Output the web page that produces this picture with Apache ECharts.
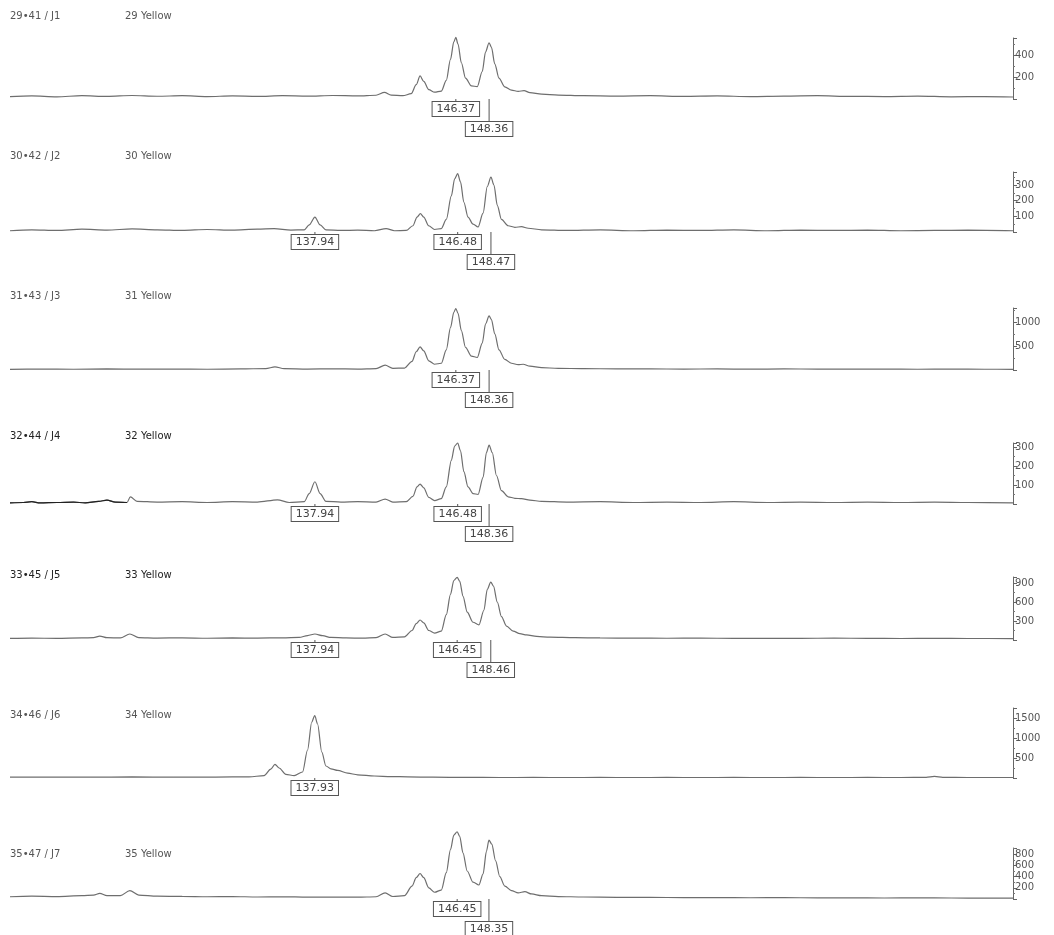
<!DOCTYPE html>
<html>
<head>
<meta charset="utf-8">
<style>
  html, body { margin: 0; padding: 0; background: #fff; }
  #chart { width: 1054px; height: 935px; }
</style>
<script src="https://cdn.jsdelivr.net/npm/echarts@6/dist/echarts.min.js"></script>
</head>
<body>
<div id="chart"></div>
<script>
// sample / dye names of each lane
const sampleNames = ["29•41 / J1", "30•42 / J2", "31•43 / J3", "32•44 / J4", "33•45 / J5", "34•46 / J6", "35•47 / J7"];
const dyeNames = ["29 Yellow", "30 Yellow", "31 Yellow", "32 Yellow", "33 Yellow", "34 Yellow", "35 Yellow"];

// size (bp) range shown
const sizeMin = 119.7;
const sizeMax = 179.7;

// traces: [size bp, intensity]
const trace1 = [[119.7,22],[121.0,28],[122.5,20],[124.0,30],[125.5,24],[127.0,32],[128.5,25],[130.0,30],[131.5,22],[133.0,28],[134.5,24],[136.0,30],[137.5,26],[139.0,32],[140.5,28],[141.6,34],[142.1,60],[142.5,36],[143.2,30],[143.7,48],[144.0,130],[144.23,210],[144.45,160],[144.75,85],[145.1,62],[145.5,72],[145.8,170],[146.05,360],[146.25,520],[146.37,560],[146.5,500],[146.7,330],[146.95,190],[147.3,120],[147.65,112],[147.95,250],[148.15,430],[148.36,512],[148.5,470],[148.7,320],[148.95,190],[149.3,110],[149.7,80],[150.1,70],[150.45,76],[150.8,58],[151.5,44],[152.5,36],[154.0,30],[156.0,26],[158.0,30],[160.0,24],[162.0,28],[164.0,22],[166.0,26],[168.0,30],[170.0,24],[172.0,22],[174.0,26],[176.0,20],[178.0,22],[179.7,18]];
const trace2 = [[119.7,8],[121.0,14],[122.5,10],[124.0,18],[125.5,12],[127.0,20],[128.5,14],[130.0,10],[131.5,16],[133.0,12],[134.5,18],[135.5,22],[136.5,12],[137.3,14],[137.6,45],[137.94,95],[138.25,45],[138.6,14],[139.5,10],[140.5,12],[141.5,8],[142.2,22],[142.7,8],[143.4,10],[143.8,40],[144.05,95],[144.25,117],[144.45,95],[144.75,40],[145.1,16],[145.5,22],[145.8,80],[146.1,230],[146.3,340],[146.48,372],[146.65,320],[146.85,190],[147.1,95],[147.4,50],[147.7,32],[148.0,120],[148.25,290],[148.47,350],[148.65,300],[148.85,170],[149.1,80],[149.5,40],[149.9,30],[150.3,34],[150.7,24],[151.5,14],[153.0,10],[155.0,14],[157.0,8],[159.0,12],[161.0,10],[163.0,14],[165.0,8],[167.0,12],[169.0,10],[171.0,12],[173.0,8],[175.0,10],[177.0,12],[179.7,8]];
const trace3 = [[119.7,15],[121.5,20],[123.5,16],[125.5,22],[127.5,18],[129.5,20],[131.5,16],[133.5,22],[135.0,30],[135.55,65],[136.1,28],[137.5,20],[139.0,24],[140.5,20],[141.6,30],[142.14,100],[142.6,35],[143.3,40],[143.75,180],[144.0,380],[144.23,480],[144.45,400],[144.75,190],[145.1,120],[145.5,140],[145.8,420],[146.05,880],[146.25,1200],[146.37,1280],[146.5,1180],[146.7,820],[146.95,470],[147.3,290],[147.65,260],[147.95,560],[148.15,960],[148.36,1125],[148.5,1050],[148.7,750],[148.95,420],[149.3,220],[149.7,140],[150.1,110],[150.4,120],[150.8,80],[151.5,50],[152.5,34],[154.0,28],[156.0,24],[158.0,22],[160.0,20],[162.0,22],[164.0,18],[166.0,22],[168.0,20],[170.0,18],[172.0,20],[174.0,16],[176.0,18],[178.0,16],[179.7,14]];
const trace4 = [[119.7,6],[120.5,8],[121.0,12],[121.5,6],[122.5,8],[123.5,10],[124.2,6],[125.0,14],[125.5,20],[126.0,10],[126.7,8],[126.9,38],[127.3,14],[128.5,10],[130.0,12],[131.5,8],[133.0,12],[134.5,10],[135.7,22],[136.4,8],[137.3,12],[137.6,55],[137.94,117],[138.25,55],[138.6,14],[139.5,10],[140.5,12],[141.6,10],[142.14,26],[142.6,10],[143.4,12],[143.8,40],[144.05,90],[144.23,105],[144.45,85],[144.75,35],[145.1,18],[145.5,28],[145.8,90],[146.1,230],[146.3,305],[146.48,321],[146.65,280],[146.85,170],[147.1,90],[147.4,55],[147.7,50],[148.0,140],[148.2,270],[148.36,310],[148.55,270],[148.8,150],[149.1,70],[149.5,38],[149.9,30],[150.3,28],[150.8,20],[151.5,14],[153.0,10],[155.0,12],[157.0,8],[159.0,10],[161.0,8],[163.0,12],[165.0,8],[167.0,10],[169.0,8],[171.0,10],[173.0,8],[175.0,10],[177.0,8],[179.7,6]];
const trace5 = [[119.7,25],[121.0,30],[122.5,26],[124.0,32],[124.7,38],[125.07,62],[125.5,36],[126.3,34],[126.87,95],[127.4,38],[128.5,30],[130.0,34],[131.5,28],[133.0,32],[134.5,30],[136.0,34],[137.0,40],[137.5,70],[137.94,95],[138.4,68],[138.9,40],[139.8,32],[140.8,30],[141.6,36],[142.14,95],[142.6,40],[143.3,50],[143.75,150],[144.0,260],[144.23,316],[144.45,270],[144.75,150],[145.1,110],[145.5,140],[145.8,400],[146.05,720],[146.25,940],[146.45,990],[146.6,930],[146.8,690],[147.05,440],[147.4,280],[147.75,240],[148.05,470],[148.25,800],[148.46,915],[148.62,850],[148.85,600],[149.1,370],[149.4,220],[149.8,140],[150.2,100],[150.6,80],[151.2,56],[152.0,44],[153.5,36],[155.0,32],[157.0,30],[159.0,28],[161.0,30],[163.0,26],[165.0,28],[167.0,26],[169.0,30],[171.0,26],[173.0,24],[175.0,26],[177.0,24],[179.7,22]];
const trace6 = [[119.7,20],[122.0,24],[124.5,20],[127.0,26],[129.5,22],[132.0,24],[134.0,28],[134.9,60],[135.3,220],[135.55,340],[135.8,250],[136.2,90],[136.7,60],[137.2,150],[137.5,700],[137.75,1400],[137.93,1560],[138.1,1350],[138.35,650],[138.6,300],[138.9,230],[139.3,190],[139.9,120],[140.5,80],[141.5,50],[142.5,36],[143.5,28],[145.0,20],[147.0,16],[149.0,12],[151.0,14],[153.0,12],[155.0,14],[157.0,12],[159.0,14],[161.0,12],[163.0,14],[165.0,12],[167.0,14],[169.0,12],[171.0,14],[173.0,12],[174.5,16],[175.0,40],[175.5,16],[177.0,12],[179.7,12]];
const trace7 = [[119.7,40],[121.0,50],[122.5,44],[124.0,60],[124.7,70],[125.07,100],[125.5,60],[126.3,60],[126.87,150],[127.4,70],[128.5,50],[130.0,46],[131.5,40],[133.0,44],[134.5,36],[136.0,40],[137.5,34],[139.0,36],[140.5,32],[141.6,40],[142.14,110],[142.6,45],[143.3,60],[143.75,230],[144.0,380],[144.23,455],[144.45,380],[144.75,200],[145.1,120],[145.5,160],[145.8,470],[146.05,880],[146.25,1140],[146.45,1200],[146.6,1120],[146.8,820],[147.05,500],[147.4,300],[147.75,250],[148.0,450],[148.2,850],[148.35,1050],[148.52,980],[148.75,680],[149.0,400],[149.3,230],[149.7,150],[150.1,110],[150.5,130],[150.9,90],[151.5,60],[152.5,44],[154.0,36],[156.0,30],[158.0,28],[160.0,26],[162.0,24],[164.0,22],[166.0,24],[168.0,20],[170.0,22],[172.0,18],[174.0,20],[176.0,18],[178.0,16],[179.7,16]];
const traces = [trace1, trace2, trace3, trace4, trace5, trace6, trace7];

// called peak sizes per lane
const peakSizes = [
  [146.37, 148.36],
  [137.94, 146.48, 148.47],
  [146.37, 148.36],
  [137.94, 146.48, 148.36],
  [137.94, 146.45, 148.46],
  [137.93],
  [146.45, 148.35]
];

// right axis: max and tick step
const yMax = [555, 383, 1290, 321, 995, 1750, 910];
const yStep = [200, 100, 500, 100, 300, 500, 200];

// layout (pixels): axis top, baseline, header line
const axisTop = [38, 172, 308, 443, 577, 708, 848];
const baseY = [99, 232, 370, 504, 640, 778, 899];
const headY = [17, 157, 297, 437, 576, 716, 855];

const chart = echarts.init(document.getElementById("chart"));

const grids = [], xAxes = [], yAxes = [], series = [], graphics = [];

traces.forEach((trace, i) => {
  grids.push({ left: 10, right: 41, top: axisTop[i], height: baseY[i] - axisTop[i] });
  xAxes.push({ gridIndex: i, type: "value", min: sizeMin, max: sizeMax, show: false });
  yAxes.push({
    gridIndex: i, type: "value", position: "right", min: 0, max: yMax[i], interval: yStep[i],
    axisLine: { show: true, lineStyle: { color: "#666", width: 1 } },
    axisTick: { show: true, length: 4, lineStyle: { color: "#666" } },
    minorTick: { show: true, splitNumber: 2, length: 2, lineStyle: { color: "#777" } },
    splitLine: { show: false },
    axisLabel: {
      fontSize: 10, color: "#555", margin: 2, fontFamily: "DejaVu Sans",
      formatter: v => (v === 0 || v % yStep[i] !== 0) ? "" : String(v)
    }
  });

  // peak labels: second of a close pair drops to a lower row
  const marks = peakSizes[i].map((bp, j) => {
    const low = j > 0 && bp - peakSizes[i][j - 1] < 3;
    const h = low ? 23 : 3;
    return {
      coord: [bp, 0],
      value: bp,
      symbol: "rect",
      symbolSize: [1, h],
      symbolOffset: [0, h / 2],
      itemStyle: { color: "#555" },
      label: {
        show: true, position: "bottom", distance: 0,
        formatter: bp.toFixed(2),
        fontSize: 11, fontFamily: "DejaVu Sans", color: "#444",
        backgroundColor: "#fff", borderColor: "#555", borderWidth: 1,
        padding: [1, 4, 0, 4], lineHeight: 13
      }
    };
  });

  series.push({
    type: "line", xAxisIndex: i, yAxisIndex: i, data: trace,
    symbol: "none", smooth: 0.3, smoothMonotone: "x", clip: false,
    lineStyle: { color: "#6e6e6e", width: 1.2 },
    silent: true,
    markPoint: { silent: true, animation: false, data: marks }
  });

  const dark = i === 3 || i === 4;
  graphics.push({
    type: "text", left: 10, top: headY[i] - 6,
    style: { text: sampleNames[i], fontSize: 10, fontFamily: "DejaVu Sans", fill: dark ? "#222" : "#555" }
  });
  graphics.push({
    type: "text", left: 125, top: headY[i] - 6,
    style: { text: dyeNames[i], fontSize: 10, fontFamily: "DejaVu Sans", fill: dark ? "#222" : "#555" }
  });
});

// lane 32 starts with a darker stretch of trace
series.push({
  type: "line", xAxisIndex: 3, yAxisIndex: 3,
  data: trace4.filter(p => p[0] <= 126.7),
  symbol: "none", smooth: 0.3, smoothMonotone: "x", silent: true,
  lineStyle: { color: "#222", width: 1.2 }
});

chart.setOption({
  animation: false,
  backgroundColor: "#fff",
  grid: grids,
  xAxis: xAxes,
  yAxis: yAxes,
  series: series,
  graphic: graphics
});
</script>
</body>
</html>
